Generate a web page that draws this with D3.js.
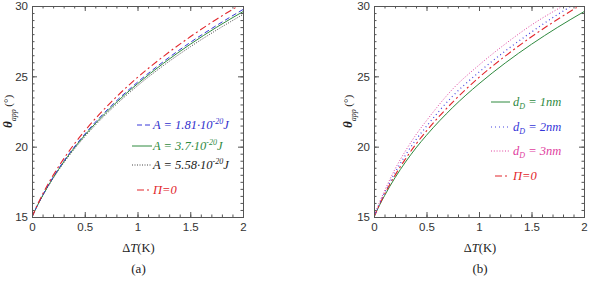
<!DOCTYPE html>
<html>
<head>
<meta charset="utf-8">
<script src="https://cdn.jsdelivr.net/npm/d3@7"></script>
<style>
  body { margin: 0; background: #fff; }
  .tick-label { font-family: "Liberation Sans", Arial, sans-serif; font-size: 11.5px; fill: #333; }
  .serif { font-family: "Liberation Serif", "Times New Roman", serif; }
</style>
</head>
<body>
<svg id="chart" width="591" height="288"></svg>
<script>
// Dados (ΔT em K, θ_app em graus)
const dT = [0, 0.05, 0.1, 0.2, 0.3, 0.4, 0.5, 0.75, 1, 1.25, 1.5, 1.75, 2];
const thetaA181 = [15, 15.81, 16.53, 17.83, 18.96, 19.97, 20.89, 22.89, 24.58, 26.07, 27.41, 28.62, 29.75];
const thetaA37  = [15, 15.80, 16.51, 17.79, 18.91, 19.91, 20.81, 22.79, 24.47, 25.95, 27.28, 28.49, 29.60];
const thetaA558 = [15, 15.78, 16.48, 17.74, 18.84, 19.82, 20.71, 22.66, 24.33, 25.79, 27.10, 28.29, 29.40];

const dTPi0 = [0, 0.05, 0.1, 0.2, 0.3, 0.4, 0.5, 0.75, 1, 1.25, 1.5, 1.75, 1.93];
const thetaPi0 = [15, 15.85, 16.61, 17.96, 19.13, 20.18, 21.12, 23.17, 24.92, 26.44, 27.81, 29.06, 29.89];

const thetaD1 = thetaA37;
const dTD2 = [0, 0.05, 0.1, 0.2, 0.3, 0.4, 0.5, 0.75, 1, 1.25, 1.5, 1.75, 1.88];
const thetaD2 = [15, 15.9, 16.7, 18.15, 19.4, 20.5, 21.45, 23.6, 25.3, 26.8, 28.15, 29.4, 30.0];
const dTD3 = [0, 0.05, 0.1, 0.2, 0.3, 0.4, 0.5, 0.75, 1, 1.25, 1.5, 1.8];
const thetaD3 = [15, 16.0, 16.85, 18.4, 19.7, 20.85, 21.85, 24.1, 25.8, 27.3, 28.65, 30.0];

const xTicks = [0, 0.5, 1, 1.5, 2];
const yTicks = [15, 20, 25, 30];

const toPoints = (xs, ys) => xs.map((x, i) => ({ x: x, y: ys[i] }));

const estilos = {
  dashBlue:  { cor: "#3838d8", dash: "5,3", w: 1 },
  solidGreen:{ cor: "#2f8a3f", dash: null, w: 1 },
  dotBlack:  { cor: "#444", dash: "1,1.5", w: 1 },
  dashDotRed:{ cor: "#e2262c", dash: "7,3,2,3", w: 1.1 },
  dotBlue:   { cor: "#4545e0", dash: "1,3", w: 1.2 },
  dotPink:   { cor: "#e0409e", dash: "1,1.8", w: 1 }
};

const paineis = [
  {
    box: { left: 32, right: 243, top: 6, bottom: 217 },
    rotulo: "(a)",
    yLabelX: 12,
    series: [
      { pts: toPoints(dT, thetaA558), est: estilos.dotBlack },
      { pts: toPoints(dT, thetaA37), est: estilos.solidGreen },
      { pts: toPoints(dT, thetaA181), est: estilos.dashBlue },
      { pts: toPoints(dTPi0, thetaPi0), est: estilos.dashDotRed }
    ],
    legenda: { x1: 152, tx: 153, entradas: [
      { y: 125, est: estilos.dashBlue, tipo: "A", txt: "1.81", cor: "#3030cc", lx0: 137 },
      { y: 146, est: estilos.solidGreen, tipo: "A", txt: "3.7", cor: "#2f8a3f", lx0: 132 },
      { y: 165, est: estilos.dotBlack, tipo: "A", txt: "5.58", cor: "#222", lx0: 132 },
      { y: 190, est: estilos.dashDotRed, tipo: "Pi", cor: "#e2262c", lx0: 137 }
    ]}
  },
  {
    box: { left: 374, right: 584, top: 6, bottom: 217 },
    rotulo: "(b)",
    yLabelX: 352,
    series: [
      { pts: toPoints(dT, thetaD1), est: estilos.solidGreen },
      { pts: toPoints(dTPi0, thetaPi0), est: estilos.dashDotRed },
      { pts: toPoints(dTD2, thetaD2), est: estilos.dotBlue },
      { pts: toPoints(dTD3, thetaD3), est: estilos.dotPink }
    ],
    legenda: { x1: 510, tx: 513, entradas: [
      { y: 102, est: estilos.solidGreen, tipo: "D", txt: "1nm", cor: "#2f8a3f", lx0: 491 },
      { y: 127, est: estilos.dotBlue, tipo: "D", txt: "2nm", cor: "#3535d8", lx0: 491 },
      { y: 151, est: estilos.dotPink, tipo: "D", txt: "3nm", cor: "#e0409e", lx0: 491 },
      { y: 176, est: estilos.dashDotRed, tipo: "Pi", cor: "#e2262c", lx0: 495 }
    ]}
  }
];

const svg = d3.select("#chart");

paineis.forEach((p, idx) => {
  const b = p.box;
  const x = d3.scaleLinear().domain([0, 2]).range([b.left, b.right]);
  const y = d3.scaleLinear().domain([15, 30]).range([b.bottom, b.top]);
  const g = svg.append("g");

  // clip
  const clipId = "clip" + idx;
  svg.append("clipPath").attr("id", clipId).append("rect")
    .attr("x", b.left).attr("y", b.top).attr("width", b.right - b.left).attr("height", b.bottom - b.top);

  // curvas
  const linha = d3.line().x(d => x(d.x)).y(d => y(d.y)).curve(d3.curveMonotoneX);
  p.series.forEach(s => {
    g.append("path").attr("d", linha(s.pts))
      .attr("clip-path", `url(#${clipId})`)
      .attr("fill", "none").attr("stroke", s.est.cor).attr("stroke-width", s.est.w)
      .attr("stroke-dasharray", s.est.dash);
  });

  // eixos com ticks para dentro
  const minorX = d3.range(0, 2.001, 0.1);
  const minorY = d3.range(15, 30.001, 0.5);
  const estiloEixo = sel => {
    sel.select(".domain").attr("stroke", "#555");
    sel.selectAll(".tick line").attr("stroke", "#555");
  };
  const addAxis = (gen, tr) => g.append("g").attr("transform", tr).call(gen).call(estiloEixo);

  addAxis(d3.axisBottom(x).tickValues(minorX).tickSize(-2.5).tickFormat(""), `translate(0,${b.bottom})`);
  addAxis(d3.axisTop(x).tickValues(minorX).tickSize(-2.5).tickFormat(""), `translate(0,${b.top})`);
  addAxis(d3.axisLeft(y).tickValues(minorY).tickSize(-2.5).tickFormat(""), `translate(${b.left},0)`);
  addAxis(d3.axisRight(y).tickValues(minorY).tickSize(-2.5).tickFormat(""), `translate(${b.right},0)`);

  const eixoX = addAxis(d3.axisBottom(x).tickValues(xTicks).tickSize(-5).tickPadding(6).tickFormat(d3.format("")), `translate(0,${b.bottom})`);
  addAxis(d3.axisTop(x).tickValues(xTicks).tickSize(-5).tickFormat(""), `translate(0,${b.top})`);
  const eixoY = addAxis(d3.axisLeft(y).tickValues(yTicks).tickSize(-5).tickPadding(4).tickFormat(d3.format("")), `translate(${b.left},0)`);
  addAxis(d3.axisRight(y).tickValues(yTicks).tickSize(-5).tickFormat(""), `translate(${b.right},0)`);

  [eixoX, eixoY].forEach(e => e.selectAll("text").attr("class", "tick-label").attr("font-size", null).attr("font-family", null).attr("fill", null));
  g.selectAll(".domain").attr("stroke-width", 1);

  // título do eixo X
  const cx = (b.left + b.right) / 2 + 1;
  const tx = g.append("text").attr("class", "serif").attr("x", cx).attr("y", 252)
    .attr("text-anchor", "middle").attr("font-size", 12.5).attr("fill", "#222");
  tx.append("tspan").text("Δ");
  tx.append("tspan").attr("font-style", "italic").text("T");
  tx.append("tspan").text("(K)");

  // rótulo (a)/(b)
  g.append("text").attr("class", "serif").attr("x", cx).attr("y", 273)
    .attr("text-anchor", "middle").attr("font-size", 13).attr("fill", "#222").text(p.rotulo);

  // título do eixo Y
  const ly = g.append("text").attr("class", "serif")
    .attr("transform", `translate(${p.yLabelX},${(b.top + b.bottom) / 2}) rotate(-90)`)
    .attr("text-anchor", "middle").attr("font-size", 13).attr("fill", "#222");
  ly.append("tspan").attr("font-weight", "bold").attr("font-style", "italic").text("θ");
  ly.append("tspan").attr("font-style", "italic").attr("font-size", 8).attr("dy", 4).text("app");
  ly.append("tspan").attr("font-size", 11).attr("dy", -4).text(" (°)");

  // legenda
  p.legenda.entradas.forEach(e => {
    g.append("line").attr("x1", e.lx0).attr("x2", p.legenda.x1).attr("y1", e.y).attr("y2", e.y)
      .attr("stroke", e.est.cor).attr("stroke-width", e.est.w).attr("stroke-dasharray", e.est.dash);
    const t = g.append("text").attr("class", "serif").attr("x", p.legenda.tx).attr("y", e.y + 4)
      .attr("font-size", 12.5).attr("font-style", "italic").attr("fill", e.cor);
    if (e.tipo === "A") {
      t.append("tspan").text(`A = ${e.txt}·10`);
      t.append("tspan").attr("font-size", 8).attr("dy", -5).text("-20");
      t.append("tspan").attr("dy", 5).text("J");
    } else if (e.tipo === "D") {
      t.append("tspan").text("d");
      t.append("tspan").attr("font-size", 8).attr("dy", 3).text("D");
      t.append("tspan").attr("dy", -3).text(` = ${e.txt}`);
    } else {
      t.append("tspan").text("Π=0");
    }
  });
});
</script>
</body>
</html>
